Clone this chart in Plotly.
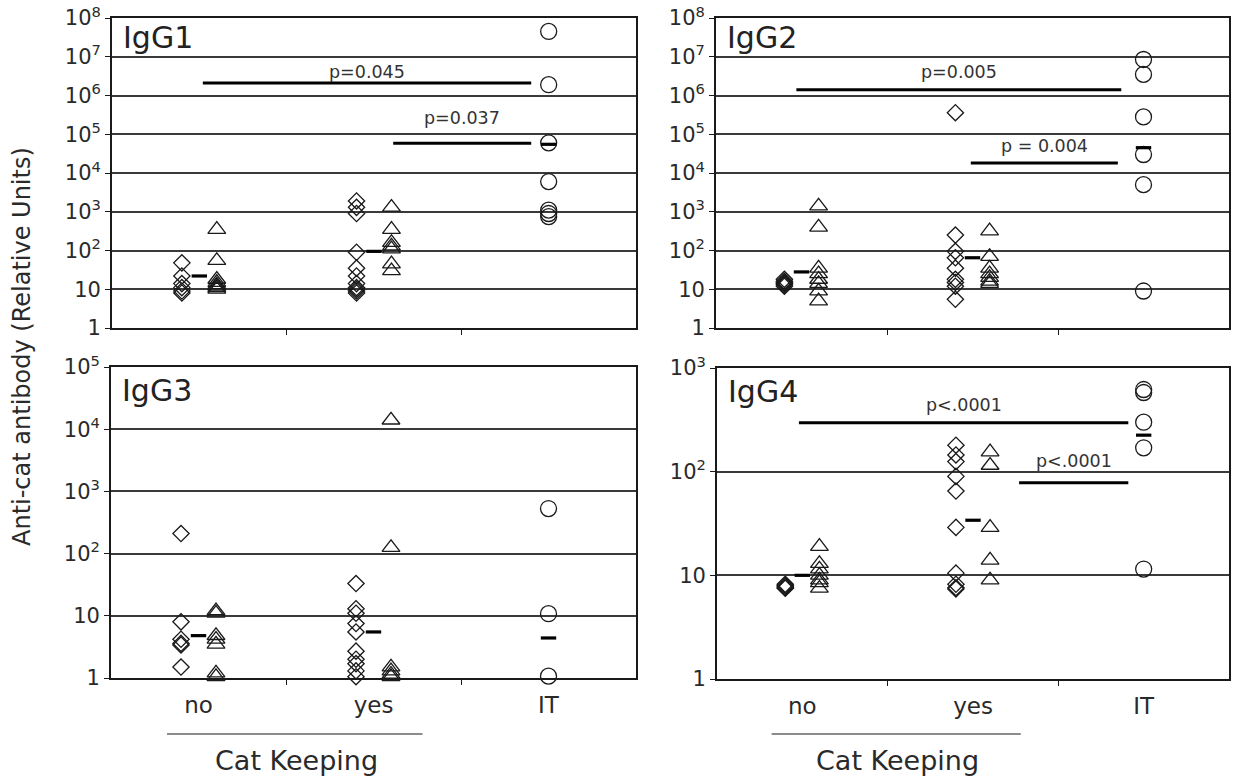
import math
import plotly.graph_objects as go

# ---------------- data ----------------
CATEGORIES = ["no", "yes", "IT"]
PANEL_NAMES = ["IgG1", "IgG2", "IgG3", "IgG4"]

# IgG1
IGG1_NO_DIAMOND = [48, 22, 14, 11, 9, 8]
IGG1_NO_TRIANGLE = [350, 55, 18, 15, 13, 12, 11, 10]
IGG1_YES_DIAMOND = [1900, 1300, 900, 90, 35, 22, 14, 11, 10, 9, 8]
IGG1_YES_TRIANGLE = [1300, 350, 160, 130, 110, 45, 30]
IGG1_IT_CIRCLE = [4.5e7, 1.9e6, 6e4, 6e3, 1.1e3, 900, 750]
IGG1_MEANS = [22, 95, 5.5e4]
IGG1_SIG_FROM = [0.02, 1.11]
IGG1_SIG_TO = [1.90, 1.90]
IGG1_SIG_Y = [2.1e6, 5.9e4]
IGG1_SIG_TEXT = ["p=0.045", "p=0.037"]

# IgG2
IGG2_NO_DIAMOND = [18, 16, 15, 14, 13, 12]
IGG2_NO_TRIANGLE = [1400, 400, 35, 25, 18, 14, 9, 5]
IGG2_YES_DIAMOND = [3.6e5, 250, 95, 65, 35, 18, 15, 12, 5.5]
IGG2_YES_TRIANGLE = [320, 70, 35, 25, 20, 16, 14]
IGG2_IT_CIRCLE = [8.5e6, 3.5e6, 2.8e5, 3e4, 5e3, 9]
IGG2_MEANS = [28, 65, 4.5e4]
IGG2_SIG_FROM = [-0.03, 0.99]
IGG2_SIG_TO = [1.87, 1.85]
IGG2_SIG_Y = [1.4e6, 1.8e4]
IGG2_SIG_TEXT = ["p=0.005", "p = 0.004"]

# IgG3
IGG3_NO_DIAMOND = [210, 8, 4.2, 3.6, 3.4, 1.5]
IGG3_NO_TRIANGLE = [12, 11, 4.8, 4.2, 3.5, 1.2, 1.05]
IGG3_YES_DIAMOND = [33, 13, 11, 7.5, 5.5, 2.7, 2, 1.7, 1.3, 1.05]
IGG3_YES_TRIANGLE = [1.4e4, 125, 1.5, 1.3, 1.15, 1.05]
IGG3_IT_CIRCLE = [530, 10.8, 1.07]
IGG3_MEANS = [4.8, 5.5, 4.4]
IGG3_SIG_FROM = []
IGG3_SIG_TO = []
IGG3_SIG_Y = []
IGG3_SIG_TEXT = []

# IgG4
IGG4_NO_DIAMOND = [8.2, 8.0, 7.8, 7.6, 7.5]
IGG4_NO_TRIANGLE = [19, 13, 11.5, 10, 9, 8.5, 7.5]
IGG4_YES_DIAMOND = [180, 145, 125, 90, 65, 29, 10.5, 8.2, 7.6, 7.4]
IGG4_YES_TRIANGLE = [155, 115, 29, 14, 9]
IGG4_IT_CIRCLE = [620, 580, 300, 170, 11.5]
IGG4_MEANS = [10, 34, 225]
IGG4_SIG_FROM = [-0.02, 1.27]
IGG4_SIG_TO = [1.91, 1.91]
IGG4_SIG_Y = [297, 78]
IGG4_SIG_TEXT = ["p<.0001", "p<.0001"]

Y_DECADES = [8, 8, 5, 3]
X_GROUP_LABEL = "Cat Keeping"
Y_TITLE = "Anti-cat antibody (Relative Units)"

PANELS = [
    dict(no_d=IGG1_NO_DIAMOND, no_t=IGG1_NO_TRIANGLE, yes_d=IGG1_YES_DIAMOND,
         yes_t=IGG1_YES_TRIANGLE, it=IGG1_IT_CIRCLE, means=IGG1_MEANS,
         s0=IGG1_SIG_FROM, s1=IGG1_SIG_TO, sy=IGG1_SIG_Y, st=IGG1_SIG_TEXT),
    dict(no_d=IGG2_NO_DIAMOND, no_t=IGG2_NO_TRIANGLE, yes_d=IGG2_YES_DIAMOND,
         yes_t=IGG2_YES_TRIANGLE, it=IGG2_IT_CIRCLE, means=IGG2_MEANS,
         s0=IGG2_SIG_FROM, s1=IGG2_SIG_TO, sy=IGG2_SIG_Y, st=IGG2_SIG_TEXT),
    dict(no_d=IGG3_NO_DIAMOND, no_t=IGG3_NO_TRIANGLE, yes_d=IGG3_YES_DIAMOND,
         yes_t=IGG3_YES_TRIANGLE, it=IGG3_IT_CIRCLE, means=IGG3_MEANS,
         s0=IGG3_SIG_FROM, s1=IGG3_SIG_TO, sy=IGG3_SIG_Y, st=IGG3_SIG_TEXT),
    dict(no_d=IGG4_NO_DIAMOND, no_t=IGG4_NO_TRIANGLE, yes_d=IGG4_YES_DIAMOND,
         yes_t=IGG4_YES_TRIANGLE, it=IGG4_IT_CIRCLE, means=IGG4_MEANS,
         s0=IGG4_SIG_FROM, s1=IGG4_SIG_TO, sy=IGG4_SIG_Y, st=IGG4_SIG_TEXT),
]

# ---------------- layout / style ----------------
W, H = 1246, 782
FONT = "DejaVu Sans"
INK = "#1a1a1a"
TXT = "#2a2a2a"
GRID = "#3a3a3a"
OFFSET = 0.1  # horizontal offset of diamonds / triangles from category centre
SIG_TEXT_SHIFT = [[11, 25], [18, 17], [], [18, 22]]

# panel pixel boxes (left, right, top, bottom)
BOXES = [(112, 636, 18, 328), (716, 1229, 18, 328),
         (111, 636, 367, 678), (717, 1229, 368, 679)]


def px_dom_x(a, b):
    return [a / W, b / W]


def px_dom_y(top, bot):
    return [1 - bot / H, 1 - top / H]


fig = go.Figure()

for i, p in enumerate(PANELS):
    xa = "x" if i == 0 else f"x{i+1}"
    ya = "y" if i == 0 else f"y{i+1}"
    common = dict(xaxis=xa, yaxis=ya, showlegend=False, cliponaxis=False,
                  hoverinfo="y")
    # diamonds
    for c, key in [(0, "no_d"), (1, "yes_d")]:
        fig.add_trace(go.Scatter(x=[c - OFFSET] * len(p[key]), y=p[key], mode="markers",
                                 marker=dict(symbol="diamond-open", size=12.5, color=INK,
                                             line=dict(width=1.3)),
                                 **common))
    # triangles
    for c, key in [(0, "no_t"), (1, "yes_t")]:
        fig.add_trace(go.Scatter(x=[c + OFFSET] * len(p[key]), y=p[key], mode="markers",
                                 marker=dict(symbol="triangle-up-open", size=15.5, color=INK,
                                             line=dict(width=1.3)),
                                 **common))
    # circles
    fig.add_trace(go.Scatter(x=[2] * len(p["it"]), y=p["it"], mode="markers",
                             marker=dict(symbol="circle-open", size=16, color=INK,
                                         line=dict(width=1.3)),
                             **common))
    # means
    fig.add_trace(go.Scatter(x=[0, 1, 2], y=p["means"], mode="markers",
                             marker=dict(symbol="line-ew", size=11, color="#000",
                                         line=dict(color="#000", width=3.2)),
                             **common))
    # significance bars
    for j, (a, b, yv, t) in enumerate(zip(p["s0"], p["s1"], p["sy"], p["st"])):
        fig.add_trace(go.Scatter(x=[a, b], y=[yv, yv], mode="lines",
                                 line=dict(color="#000", width=3), **common))
        fig.add_annotation(x=(a + b) / 2, y=math.log10(yv), xref=xa, yref=ya,
                           xanchor="center", yanchor="middle",
                           yshift=SIG_TEXT_SHIFT[i][j], text=t, showarrow=False,
                           font=dict(family=FONT, size=17.5, color="#333"))

    # axes
    l, r, t, b = BOXES[i]
    nd = Y_DECADES[i]
    tickvals = [10 ** k for k in range(nd + 1)]
    ticktext = ["1", "10"] + [f"10<sup>{k}</sup>" for k in range(2, nd + 1)]
    bottom_row = i >= 2
    xkey = "xaxis" if i == 0 else f"xaxis{i+1}"
    ykey = "yaxis" if i == 0 else f"yaxis{i+1}"
    fig.layout[xkey] = dict(
        domain=px_dom_x(l, r), anchor=ya, range=[-0.5, 2.5], automargin=False,
        tickmode="array", tickvals=[0, 1, 2], ticktext=CATEGORIES,
        showticklabels=bottom_row, ticks="", ticklabelstandoff=5,
        tickfont=dict(family=FONT, size=23, color=TXT),
        showline=True, mirror=True, linecolor=INK, linewidth=1.8,
        showgrid=False, zeroline=False, fixedrange=True,
        minor=dict(tickmode="array", tickvals=[0.5, 1.5], ticks="outside",
                   ticklen=5, tickwidth=1.2, tickcolor=INK, showgrid=False),
    )
    fig.layout[ykey] = dict(
        domain=px_dom_y(t, b), anchor=xa, type="log", range=[0, nd],
        automargin=False,
        tickmode="array", tickvals=tickvals, ticktext=ticktext,
        ticks="outside", ticklen=5, tickwidth=1.2, tickcolor=INK,
        tickfont=dict(family=FONT, size=21, color=TXT),
        showline=True, mirror=True, linecolor=INK, linewidth=1.8,
        showgrid=True, gridcolor=GRID, gridwidth=1.6, zeroline=False,
        fixedrange=True,
    )
    # panel title
    fig.add_annotation(x=0.018, y=1, xref=f"{xa} domain", yref=f"{ya} domain",
                       xanchor="left", yanchor="top",
                       yshift=0 if i < 2 else -4,
                       text=PANEL_NAMES[i], showarrow=False,
                       font=dict(family=FONT, size=30, color="#222"))

# group bracket "Cat Keeping" under the bottom panels
for xa in ["x3", "x4"]:
    fig.add_shape(type="line", xref=xa, yref="paper", x0=-0.18, x1=1.28,
                  y0=1 - 734 / H, y1=1 - 734 / H,
                  line=dict(color="#666", width=1.3))
    fig.add_annotation(x=0.56, y=1 - 760 / H, xref=xa, yref="paper",
                       xanchor="center", yanchor="middle",
                       text=X_GROUP_LABEL, showarrow=False,
                       font=dict(family=FONT, size=27, color=TXT))

# y title
fig.add_annotation(x=22 / W, y=1 - 347 / H, xref="paper", yref="paper",
                   xanchor="center", yanchor="middle",
                   text=Y_TITLE, textangle=-90, showarrow=False,
                   font=dict(family=FONT, size=24, color=TXT))

fig.update_layout(template="none", width=W, height=H,
                  margin=dict(l=0, r=0, t=0, b=0, autoexpand=False),
                  paper_bgcolor="white", plot_bgcolor="white", showlegend=False)

fig.write_html("out.html", config={"displayModeBar": False},
               post_script="document.body.style.margin='0px';"
                           "document.body.style.overflow='hidden';")
